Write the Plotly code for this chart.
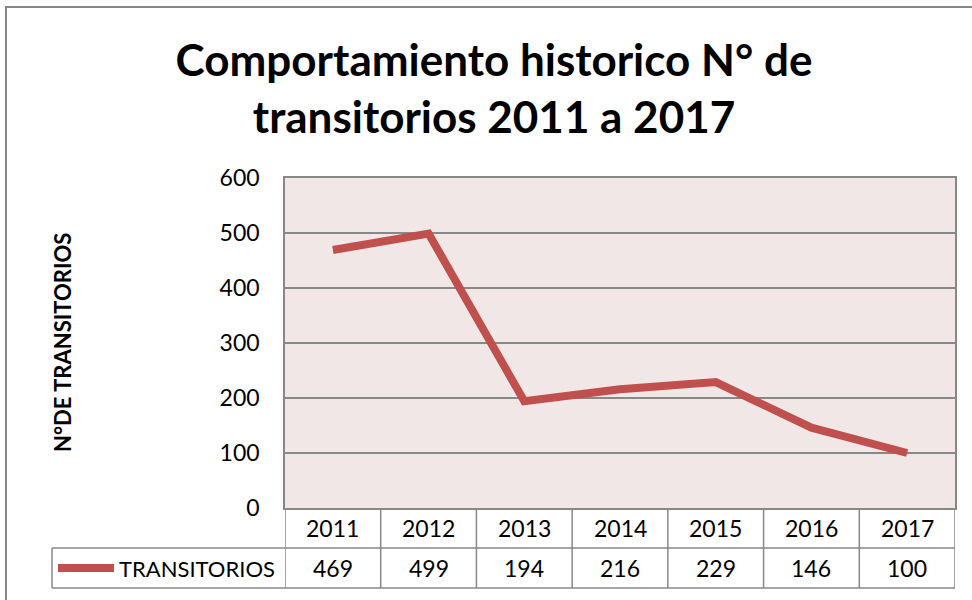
import plotly.graph_objects as go

years = ["2011", "2012", "2013", "2014", "2015", "2016", "2017"]
transitorios = [469, 499, 194, 216, 229, 146, 100]
series_name = "TRANSITORIOS"
y_ticks = [0, 100, 200, 300, 400, 500, 600]

W, H = 972, 600
FONT = "Lato"
LINE_COLOR = "#C0504D"
GRID = "#888888"

def px(x):
    return x / W

def py(y):
    return 1 - y / H

x0p, x1p = 285, 955
y0p, y1p = 178, 508
row1_bot = 548
row2_bot = 588
legend_left = 52

xs = list(range(len(years)))

fig = go.Figure()
fig.add_trace(go.Scatter(
    x=xs, y=transitorios, mode="lines", name=series_name,
    line=dict(color=LINE_COLOR, width=8), showlegend=False, hoverinfo="x+y"))

shapes = []
# outer chart border
shapes.append(dict(type="rect", xref="paper", yref="paper",
                   x0=px(6), x1=px(W + 5), y0=py(H + 5), y1=py(7),
                   line=dict(color="#888888", width=2), layer="below"))
# table horizontal lines
for yy in [row1_bot, row2_bot]:
    shapes.append(dict(type="line", xref="paper", yref="paper",
                       x0=px(legend_left), x1=px(x1p), y0=py(yy), y1=py(yy),
                       line=dict(color=GRID, width=1.5)))
shapes.append(dict(type="line", xref="paper", yref="paper",
                   x0=px(legend_left), x1=px(legend_left), y0=py(row1_bot), y1=py(row2_bot),
                   line=dict(color=GRID, width=1.5)))
# vertical category boundaries in table (data x coords)
for i in range(len(years) + 1):
    shapes.append(dict(type="line", xref="x", yref="paper",
                       x0=i - 0.5, x1=i - 0.5, y0=py(row2_bot), y1=py(y1p),
                       line=dict(color=GRID, width=1.5)))
# legend key line
shapes.append(dict(type="line", xref="paper", yref="paper",
                   x0=px(58), x1=px(114), y0=py(568), y1=py(568),
                   line=dict(color=LINE_COLOR, width=8)))

annotations = []
for i, (yr, v) in enumerate(zip(years, transitorios)):
    annotations.append(dict(x=i, y=py((y1p + row1_bot) / 2), xref="x", yref="paper",
                            text=yr, showarrow=False, yanchor="middle",
                            font=dict(family=FONT, size=23, color="#000")))
    annotations.append(dict(x=i, y=py((row1_bot + row2_bot) / 2), xref="x", yref="paper",
                            text=str(v), showarrow=False, yanchor="middle",
                            font=dict(family=FONT, size=23, color="#000")))
annotations.append(dict(x=px(117), y=py(568), xref="paper", yref="paper",
                        text=series_name, showarrow=False, xanchor="left", yanchor="middle",
                        font=dict(family=FONT, size=22, color="#000")))
annotations.append(dict(x=px(62), y=py(343), xref="paper", yref="paper",
                        text="<b>N°DE TRANSITORIOS</b>", showarrow=False, textangle=-90,
                        xanchor="center", yanchor="middle",
                        font=dict(family=FONT, size=22, color="#000")))

fig.update_layout(
    width=W, height=H,
    margin=dict(l=0, r=0, t=0, b=0, pad=0, autoexpand=False),
    paper_bgcolor="white",
    plot_bgcolor="#F2E7E7",
    title=dict(text="<b>Comportamiento historico N° de<br>transitorios 2011 a 2017</b>",
               x=px(494), y=py(76), xanchor="center", yanchor="middle",
               xref="paper", yref="container", automargin=False,
               font=dict(family=FONT, size=44, color="#000")),
    xaxis=dict(domain=[px(x0p), px(x1p)], range=[-0.5, len(years) - 0.5],
               showticklabels=False, showgrid=False, zeroline=False, automargin=False,
               showline=True, linecolor=GRID, linewidth=1.5, mirror=True, ticks=""),
    yaxis=dict(domain=[py(y1p), py(y0p)], range=[0, 600], tickvals=y_ticks,
               showgrid=True, gridcolor=GRID, gridwidth=1.5, zeroline=False, automargin=False,
               showline=True, linecolor=GRID, linewidth=1.5, mirror=True,
               ticks="", ticklabelstandoff=19,
               tickfont=dict(family=FONT, size=23, color="#000")),
    shapes=shapes,
    annotations=annotations,
)

fig.write_html("out.html", config={"displayModeBar": False},
               post_script="document.body.style.margin='0';document.body.style.overflow='hidden';")
